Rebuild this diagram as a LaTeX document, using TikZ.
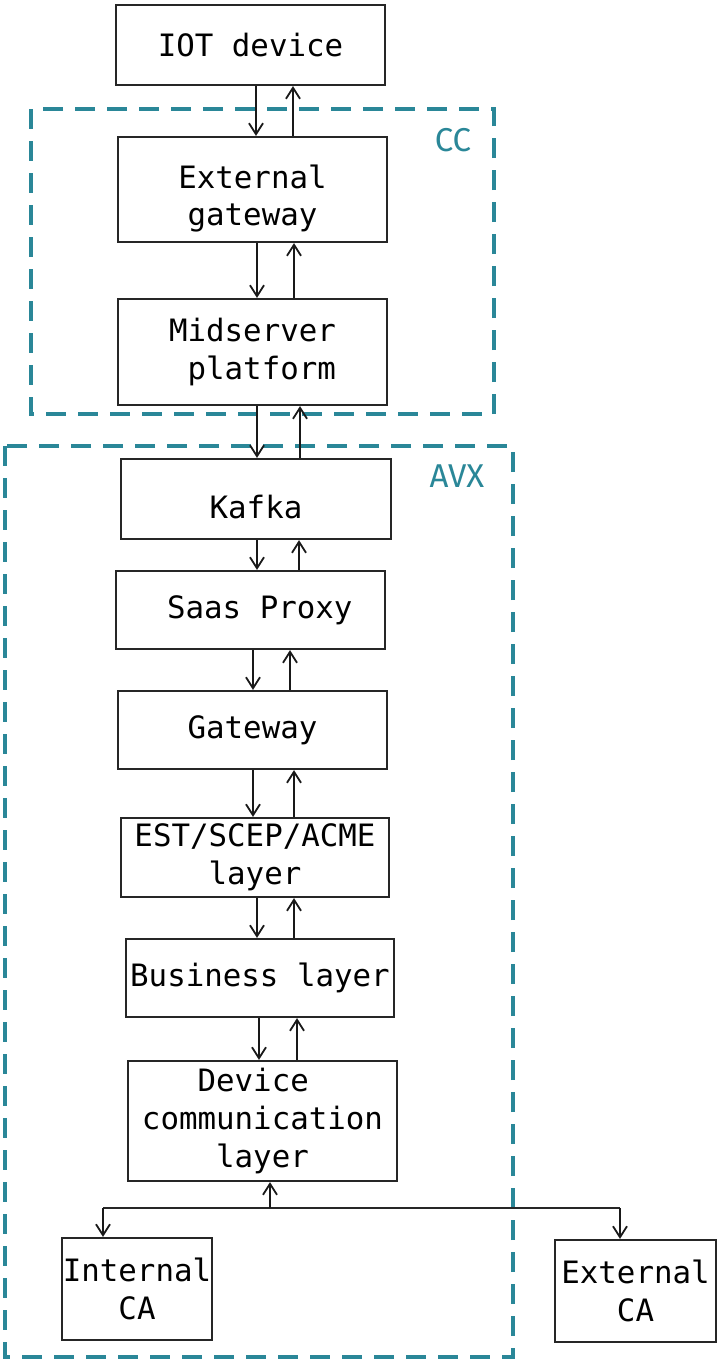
\documentclass[tikz,border=0pt]{standalone}
\usepackage{fontspec}
\setmonofont{DejaVu Sans Mono}
\newfontfamily\lblfont{Fira Sans}
\usetikzlibrary{arrows.meta}
\definecolor{teal1}{RGB}{42,135,152}
\begin{document}
\begin{tikzpicture}[x=0.5pt,y=-0.5pt,
  blk/.style={draw=black!85,line width=1.1pt,inner sep=0pt,align=center,
    font=\fontsize{15.4pt}{18.8pt}\selectfont\ttfamily},
  txt/.style={inner sep=0pt,align=center,
    font=\fontsize{15.4pt}{18.8pt}\selectfont\ttfamily},
  arr/.style={line width=0.9pt,draw=black!90,-{Straight Barb[length=5.5pt,width=7pt,line width=0.9pt]}},
  grp/.style={draw=teal1,line width=1.6pt,dash pattern=on 10pt off 6pt},
  glbl/.style={text=teal1,font=\fontsize{16.5pt}{19pt}\selectfont\lblfont}]
\useasboundingbox (0,0) rectangle (718,1360);
% groups
\draw[grp] (31,109) rectangle (494,414);
\draw[grp] (5,446) rectangle (513,1357);
\node[glbl] (cc) at (453,140) {CC};
\node[glbl] (avx) at (457,476) {AVX};
% blocks
\node[blk,minimum width=134.5pt,minimum height=40pt] (iot) at (250.5,45) {IOT device};
\node[blk,minimum width=134.5pt,minimum height=52.5pt] (eg) at (252.5,189.5) {};
\node[txt] (egt) at ([yshift=-4.5pt]eg.center) {External\\gateway};
\node[blk,minimum width=134.5pt,minimum height=53pt] (mid) at (252.5,352) {Midserver\\\hphantom{x}platform};
\node[blk,minimum width=135pt,minimum height=40pt] (kafka) at (256,499) {};
\node[txt] (kafkat) at ([yshift=-3.8pt]kafka.center) {Kafka};
\node[blk,minimum width=134.5pt,minimum height=39pt] (saas) at (250.5,610) {\hphantom{x}Saas Proxy};
\node[blk,minimum width=134.5pt,minimum height=39pt] (gw) at (252.5,730) {Gateway};
\node[blk,minimum width=134pt,minimum height=39.5pt] (est) at (255,857.5) {EST/SCEP/ACME\\layer};
\node[blk,minimum width=134pt,minimum height=39pt] (bus) at (260,978) {Business layer};
\node[blk,minimum width=134.5pt,minimum height=60pt] (dev) at (262.5,1121) {Device\hphantom{x}\\communication\\layer};
\node[blk,minimum width=75pt,minimum height=51pt] (ica) at (137,1289) {Internal\\CA};
\node[blk,minimum width=80.5pt,minimum height=51pt] (eca) at (635.5,1291) {External\\CA};
% arrows
\draw[arr] (iot.south -| 256,0) -- (eg.north -| 256,0);
\draw[arr] (eg.north -| 293,0) -- (iot.south -| 293,0);
\draw[arr] (eg.south -| 257,0) -- (mid.north -| 257,0);
\draw[arr] (mid.north -| 294,0) -- (eg.south -| 294,0);
\draw[arr] (mid.south -| 257,0) -- (kafka.north -| 257,0);
\draw[arr] (kafka.north -| 300,0) -- (mid.south -| 300,0);
\draw[arr] (kafka.south -| 257,0) -- (saas.north -| 257,0);
\draw[arr] (saas.north -| 299,0) -- (kafka.south -| 299,0);
\draw[arr] (saas.south -| 253,0) -- (gw.north -| 253,0);
\draw[arr] (gw.north -| 290,0) -- (saas.south -| 290,0);
\draw[arr] (gw.south -| 253,0) -- (est.north -| 253,0);
\draw[arr] (est.north -| 294,0) -- (gw.south -| 294,0);
\draw[arr] (est.south -| 257,0) -- (bus.north -| 257,0);
\draw[arr] (bus.north -| 294,0) -- (est.south -| 294,0);
\draw[arr] (bus.south -| 259,0) -- (dev.north -| 259,0);
\draw[arr] (dev.north -| 297,0) -- (bus.south -| 297,0);
% bus
\coordinate (bj) at (270,1208);
\coordinate (bl) at (103,1208);
\coordinate (br) at (620,1208);
\draw[line width=1.1pt,draw=black!85] (bl) -- (br);
\draw[arr] (bj) -- (dev.south -| bj);
\draw[arr] (bl) -- (ica.north -| bl);
\draw[arr] (br) -- (eca.north -| br);
\end{tikzpicture}
\end{document}
